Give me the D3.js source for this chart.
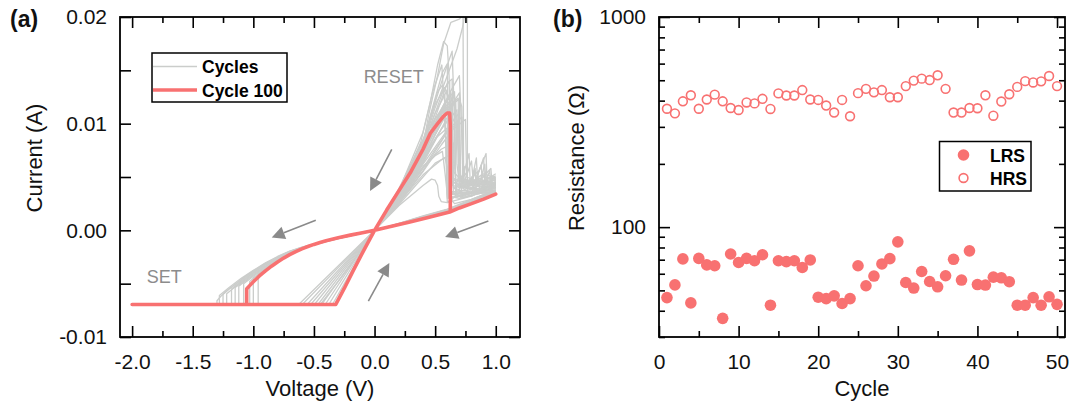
<!DOCTYPE html>
<html><head><meta charset="utf-8">
<script src="https://cdn.jsdelivr.net/npm/d3@7"></script>
<style>body{margin:0;background:#fff}svg{display:block;font-family:"Liberation Sans",Arial,sans-serif}</style>
</head><body><svg id="c" width="1073" height="405"></svg>
<script>
// ---------------- Panel (a): I–V sweeps (voltage V, current mA) ----------------
const voltTicks = [-2.0, -1.5, -1.0, -0.5, 0.0, 0.5, 1.0];
const voltMinorTicks = [-1.75, -1.25, -0.75, -0.25, 0.25, 0.75];
const currentTicks = [-10, 0, 10, 20];          // mA  -> labelled in A
const currentMinorTicks = [-5, 5, 15];

// Cycle 100 (highlighted)
const cycle100 = [[0,0],[0.1,1.9],[0.2,3.7],[0.3,5.5],[0.4,7.6],[0.46,9.1],[0.52,10.0],[0.57,10.7],[0.6,11.0],[0.62,11.0],[0.625,9.8],[0.625,1.75],
  [0.7,2.1],[0.8,2.5],[0.9,2.93],[1.0,3.4],[0.9,2.93],[0.8,2.5],[0.7,2.1],[0.62,1.72],[0.45,1.22],[0.3,0.8],[0.15,0.4],[0,0],
  [-0.1,-0.22],[-0.2,-0.45],[-0.3,-0.7],[-0.4,-0.98],[-0.45,-1.14],[-0.5,-1.32],[-0.55,-1.52],[-0.6,-1.74],[-0.65,-2.0],[-0.7,-2.28],
  [-0.75,-2.6],[-0.8,-2.96],[-0.85,-3.36],[-0.9,-3.8],[-0.95,-4.28],[-1.0,-4.82],[-1.04,-5.3],[-1.055,-5.5],[-1.055,-6.95],[-2.0,-6.95],[-0.32,-6.95],
  [-0.25,-5.45],[-0.175,-3.75],[-0.09,-1.9],[0,0]];

// Other cycles: positive LRS branch, RESET and post-reset sweep to 1 V
const cyclesLrsPos = [
  [[0,0],[0.1,1.6],[0.2,3.5],[0.3,5.3],[0.4,8.0],[0.45,11],[0.52,14.5],[0.57,17.5],[0.63,19.5],[0.7,19.8],[0.73,20.2],[0.735,4.6],[0.8,4.3],[0.83,5.6],[0.84,4.2],[0.9,4.1],[1.0,4.2]],
  [[0,0],[0.2,3.3],[0.4,8],[0.5,11.5],[0.6,14.5],[0.68,17],[0.73,19.2],[0.755,21],[0.766,22],[0.766,4.1],[0.85,3.9],[1.0,4.3]],
  [[0,0],[0.2,3.6],[0.38,8.2],[0.46,12],[0.52,15.5],[0.57,17.7],[0.6,17.3],[0.615,14.5],[0.63,5],[0.7,4.6],[0.76,5.4],[0.77,4.4],[0.85,4.3],[1.0,4.5]],
  [[0,0],[0.2,3.4],[0.4,8],[0.5,12],[0.57,14.5],[0.64,16.8],[0.655,12],[0.67,3.8],[0.8,3.6],[1.0,4.0]],
  [[0,0],[0.2,3.7],[0.4,9.2],[0.48,13],[0.555,15.5],[0.57,12.5],[0.6,13.2],[0.61,3.5],[0.75,3.4],[1.0,3.8]],
  [[0,0],[0.2,3.6],[0.4,8.5],[0.5,11.8],[0.58,13.4],[0.6,12.6],[0.61,3.1],[0.75,3.2],[0.83,5.8],[0.84,3.4],[1.0,3.7]],
  [[0,0],[0.2,3.2],[0.4,7.2],[0.55,10.8],[0.66,12.6],[0.68,9],[0.7,6.5],[0.72,3.3],[0.85,3.7],[1.0,4.6]],
  [[0,0],[0.2,3.0],[0.4,6.8],[0.55,10],[0.65,12],[0.7,12.9],[0.71,5.2],[0.74,4.5],[0.8,6.5],[0.82,3.8],[1.0,4.2]],
  [[0,0],[0.2,3.5],[0.4,7.8],[0.52,10.6],[0.62,12.1],[0.63,2.8],[0.68,3.4],[0.72,3.0],[0.8,3.3],[0.86,4.6],[0.87,3.5],[1.0,3.5]],
  [[0,0],[0.2,3.9],[0.4,8.5],[0.5,10.5],[0.57,11.5],[0.59,8],[0.6,2.6],[0.8,3.2],[1.0,4.5]],
  [[0,0],[0.2,2.9],[0.4,6.5],[0.55,9.5],[0.68,11.3],[0.69,7],[0.7,4.8],[0.78,4.4],[0.9,5.0],[1.0,4.8]],
  [[0,0],[0.2,3.3],[0.4,7],[0.52,8.8],[0.6,9.6],[0.62,6.5],[0.63,3.6],[0.8,3.8],[0.92,7.2],[0.93,4.0],[1.0,4.3]],
  [[0,0],[0.2,2.8],[0.4,6.2],[0.6,9.4],[0.72,10.6],[0.73,3.9],[0.85,5.5],[0.87,3.6],[1.0,4.1]],
  [[0,0],[0.2,2.9],[0.4,6],[0.55,7.6],[0.65,8.2],[0.66,6],[0.68,3.2],[0.9,3.7],[1.0,4.0]],
  [[0,0],[0.2,2.3],[0.4,4.2],[0.47,4.8],[0.5,4.7],[0.52,4.2],[0.53,3.2],[0.55,2.7],[0.6,2.6],[0.63,2.9],[0.66,2.5],[0.8,2.9],[1.0,3.8]],
  [[0,0],[0.2,2.6],[0.4,5.2],[0.55,6.6],[0.62,7.1],[0.63,3.6],[0.8,3.5],[0.9,6.8],[0.91,3.9],[1.0,4.2]],
  [[0,0],[0.2,3.1],[0.4,6.9],[0.55,10.8],[0.63,13.1],[0.7,14.5],[0.72,9],[0.73,4.4],[0.9,4.6],[1.0,4.9]],
  [[0,0],[0.2,3.6],[0.4,8],[0.5,11],[0.58,12.7],[0.6,3],[0.75,3.3],[1.0,3.9]],
  [[0,0],[0.2,3.4],[0.4,7.6],[0.5,10.4],[0.6,12.3],[0.66,13.0],[0.67,4.2],[0.76,4.0],[0.88,5.2],[1.0,4.6]],
  [[0,0],[0.2,3.2],[0.4,7.4],[0.52,11.2],[0.6,13.8],[0.64,14.2],[0.65,5.5],[0.7,4.9],[0.86,4.5],[1.0,5.1]],
  [[0,0],[0.2,2.7],[0.4,5.8],[0.5,7.6],[0.6,9.2],[0.68,10],[0.7,8.5],[0.71,4.6],[0.8,4.2],[0.86,4.9],[0.95,4.3],[1.0,4.4]],
  [[0,0],[0.2,2.5],[0.4,5.5],[0.55,8.0],[0.65,9.5],[0.75,10.4],[0.76,5.0],[0.82,4.7],[0.9,5.3],[1.0,4.9]],
  [[0,0],[0.2,3.0],[0.4,6.6],[0.5,9.0],[0.6,11.2],[0.64,11.6],[0.65,4.0],[0.7,3.8],[0.78,7.2],[0.79,4.2],[1.0,4.4]],
  [[0,0],[0.2,3.1],[0.4,7.0],[0.5,9.6],[0.56,11.5],[0.62,12.8],[0.64,12.2],[0.65,3.4],[0.8,3.5],[1.0,4.0]],
  [[0,0],[0.2,2.4],[0.4,5.0],[0.5,6.3],[0.58,6.8],[0.6,6.0],[0.62,4.3],[0.7,4.0],[0.85,4.4],[1.0,4.7]],
  [[0,0],[0.2,3.3],[0.4,7.3],[0.5,9.8],[0.58,11.9],[0.62,12.4],[0.63,9.5],[0.64,4.6],[0.72,4.1],[0.74,6.0],[0.75,4.3],[1.0,4.5]],
  [[0,0],[0.2,3.4],[0.4,7.9],[0.46,10.6],[0.52,13.0],[0.56,13.6],[0.58,12],[0.6,3.2],[0.7,3.0],[0.88,3.5],[1.0,4.0]],
  [[0,0],[0.2,2.6],[0.4,5.6],[0.56,8.5],[0.66,10.5],[0.7,11.0],[0.7,4.0],[0.8,3.9],[0.96,5.8],[0.97,4.2],[1.0,4.3]],
  [[0,0],[0.2,2.8],[0.4,6.3],[0.5,8.4],[0.6,10.6],[0.67,12.2],[0.68,6.2],[0.7,4.3],[0.8,4.8],[0.9,4.2],[1.0,5.0]],
  [[0,0],[0.2,3.5],[0.4,8.3],[0.5,12.4],[0.56,14.8],[0.6,15.6],[0.61,6.4],[0.64,4.5],[0.8,4.0],[1.0,4.4]],
  [[0,0],[0.2,2.7],[0.4,5.9],[0.5,7.0],[0.56,7.4],[0.58,5.5],[0.6,3.4],[0.7,3.3],[0.9,3.9],[1.0,4.1]],
  [[0,0],[0.2,3.2],[0.4,7.1],[0.5,9.3],[0.6,11.5],[0.7,12.3],[0.72,11.6],[0.73,4.8],[0.82,4.4],[0.88,6.1],[0.89,4.5],[1.0,4.7]],
  [[0,0],[0.2,3.3],[0.4,7.4],[0.5,10.0],[0.58,12.0],[0.63,12.9],[0.64,5.0],[0.68,4.4],[0.7,5.6],[0.72,4.2],[0.8,4.6],[0.84,6.8],[0.85,4.5],[0.93,4.8],[1.0,5.3]],
  [[0,0],[0.2,3.0],[0.4,6.6],[0.52,9.5],[0.62,11.7],[0.69,12.4],[0.7,3.6],[0.76,3.9],[0.8,5.0],[0.82,3.8],[0.9,4.0],[0.95,5.6],[0.96,4.1],[1.0,4.0]],
  [[0,0],[0.2,3.4],[0.4,7.8],[0.5,11.0],[0.57,13.2],[0.62,14.0],[0.625,4.8],[0.66,3.9],[0.72,4.5],[0.79,3.8],[0.86,4.2],[0.91,6.2],[0.92,4.3],[1.0,4.8]],
  [[0,0],[0.2,2.9],[0.4,6.4],[0.5,8.6],[0.6,10.3],[0.66,11.0],[0.67,3.1],[0.74,3.4],[0.8,3.2],[0.88,3.6],[1.0,3.6]]
];
// Other cycles: HRS sweep from 1 V back through 0 V to SET
const cyclesHrs = [
  [[1.0,3.7],[0.8,2.8],[0.6,1.95],[0.4,1.3],[0.2,0.62],[0,0],[-0.1,-0.24],[-0.2,-0.49],[-0.3,-0.74],[-0.4,-1.0],[-0.5,-1.3],[-0.6,-1.62],[-0.7,-2.0],[-0.8,-2.5],[-0.9,-3.1],[-1.0,-3.8],[-1.1,-4.6],[-1.2,-5.5],[-1.27,-6.2],[-1.3,-6.6],[-1.3,-7.0]],
  [[1.0,3.5],[0.8,2.65],[0.6,1.85],[0.4,1.25],[0.2,0.58],[0,0],[-0.1,-0.25],[-0.2,-0.5],[-0.3,-0.75],[-0.4,-1.02],[-0.5,-1.32],[-0.6,-1.65],[-0.7,-2.05],[-0.8,-2.6],[-0.9,-3.25],[-1.0,-4.0],[-1.1,-4.85],[-1.2,-5.75],[-1.22,-5.95],[-1.22,-7.0]],
  [[1.0,3.6],[0.8,2.75],[0.6,1.9],[0.4,1.28],[0.2,0.6],[0,0],[-0.1,-0.25],[-0.2,-0.5],[-0.3,-0.76],[-0.4,-1.03],[-0.5,-1.34],[-0.6,-1.68],[-0.7,-2.1],[-0.8,-2.7],[-0.9,-3.4],[-1.0,-4.2],[-1.1,-5.05],[-1.12,-5.25],[-1.12,-7.0]],
  [[1.0,3.45],[0.8,2.6],[0.6,1.8],[0.4,1.2],[0.2,0.55],[0,0],[-0.1,-0.25],[-0.2,-0.51],[-0.3,-0.77],[-0.4,-1.04],[-0.5,-1.35],[-0.6,-1.72],[-0.7,-2.18],[-0.8,-2.8],[-0.9,-3.55],[-0.96,-4.1],[-0.96,-7.0]],
  [[1.0,3.8],[0.8,2.9],[0.6,2.0],[0.4,1.35],[0.2,0.65],[0,0],[-0.1,-0.24],[-0.2,-0.48],[-0.3,-0.73],[-0.4,-0.99],[-0.5,-1.28],[-0.6,-1.58],[-0.7,-1.95],[-0.8,-2.45],[-0.9,-3.05],[-1.0,-3.75],[-1.1,-4.5],[-1.2,-5.35],[-1.28,-6.1],[-1.28,-7.0]],
  [[1.0,3.55],[0.8,2.7],[0.6,1.88],[0.4,1.27],[0.2,0.6],[0,0],[-0.1,-0.25],[-0.2,-0.5],[-0.3,-0.76],[-0.4,-1.03],[-0.5,-1.34],[-0.6,-1.7],[-0.7,-2.14],[-0.8,-2.75],[-0.9,-3.5],[-1.0,-4.3],[-1.08,-5.0],[-1.08,-7.0]],
  [[1.0,3.65],[0.8,2.8],[0.6,1.95],[0.4,1.3],[0.2,0.62],[0,0],[-0.1,-0.24],[-0.2,-0.49],[-0.3,-0.74],[-0.4,-1.01],[-0.5,-1.3],[-0.6,-1.64],[-0.7,-2.02],[-0.8,-2.55],[-0.9,-3.2],[-1.0,-3.95],[-1.1,-4.75],[-1.18,-5.5],[-1.18,-7.0]],
  [[1.0,3.5],[0.8,2.65],[0.6,1.82],[0.4,1.22],[0.2,0.57],[0,0],[-0.1,-0.25],[-0.2,-0.51],[-0.3,-0.77],[-0.4,-1.05],[-0.5,-1.36],[-0.6,-1.74],[-0.7,-2.2],[-0.8,-2.85],[-0.9,-3.65],[-1.0,-4.5],[-1.03,-4.8],[-1.03,-7.0]],
  [[1.0,3.4],[0.8,2.55],[0.6,1.78],[0.4,1.2],[0.2,0.55],[0,0],[-0.1,-0.24],[-0.2,-0.49],[-0.3,-0.74],[-0.4,-1.01],[-0.5,-1.3],[-0.6,-1.6],[-0.7,-1.98],[-0.8,-2.5],[-0.9,-3.15],[-1.0,-3.85],[-1.1,-4.65],[-1.2,-5.5],[-1.25,-6.0],[-1.25,-7.0]],
  [[1.0,3.6],[0.8,2.72],[0.6,1.9],[0.4,1.27],[0.2,0.6],[0,0],[-0.1,-0.25],[-0.2,-0.5],[-0.3,-0.75],[-0.4,-1.02],[-0.5,-1.33],[-0.6,-1.67],[-0.7,-2.08],[-0.8,-2.65],[-0.9,-3.35],[-1.0,-4.1],[-1.1,-4.95],[-1.15,-5.35],[-1.15,-7.0]],
  [[1.0,3.5],[0.8,2.66],[0.6,1.86],[0.4,1.24],[0.2,0.58],[0,0],[-0.1,-0.25],[-0.2,-0.51],[-0.3,-0.77],[-0.4,-1.05],[-0.5,-1.36],[-0.6,-1.73],[-0.7,-2.2],[-0.8,-2.82],[-0.9,-3.6],[-1.0,-4.45],[-1.0,-7.0]]
];
// Other cycles: compliance (-7 mA) then negative LRS branch back to 0 V
const cyclesLrsNeg = [
  [[-2.0,-7.0],[-0.33,-7.0],[0,0]], [[-2.0,-7.0],[-0.35,-7.0],[0,0]], [[-2.0,-7.0],[-0.38,-7.0],[0,0]],
  [[-2.0,-7.0],[-0.41,-7.0],[0,0]], [[-2.0,-7.0],[-0.44,-7.0],[0,0]], [[-2.0,-7.0],[-0.47,-7.0],[0,0]],
  [[-2.0,-7.0],[-0.5,-7.0],[0,0]], [[-2.0,-7.0],[-0.53,-7.0],[0,0]], [[-2.0,-7.0],[-0.56,-7.0],[0,0]],
  [[-2.0,-7.0],[-0.6,-7.0],[0,0]], [[-2.0,-7.0],[-0.63,-7.0],[0,0]], [[-2.0,-7.0],[-0.45,-7.0],[-0.2,-3.3],[0,0]]
];
const annotations = [{text:"RESET", v:-0.09, i:13.8}, {text:"SET", v:-1.88, i:-4.9}];
const arrows = [[0.142,7.59,-0.037,3.68],[-0.485,0.94,-0.848,-0.68],[0.939,0.87,0.582,-0.63],[-0.051,-6.63,0.122,-3.07]];

// ---------------- Panel (b): resistance vs cycle ----------------
const cycles = d3.range(1, 51);
const lrs = [46.2,53.1,70.6,43.6,71,66.1,65.5,36.8,74.5,67.9,71,69.2,73.9,42.5,69.2,68.5,69.2,64.3,69.8,46.4,
  45.7,47.1,43.3,45.7,65.5,52.6,58.5,66.8,70.8,85.1,54.5,51.3,61.5,55.1,52,58.7,70.3,56,77.1,53.3,
  53,57.8,57.4,55,42.5,42.5,46.2,42.5,46.6,42.9];
const hrs = [366,348,397,424,366,405,427,397,369,361,392,388,408,365,433,423,423,449,405,403,
  379,351,403,337,434,455,438,449,415,415,469,498,509,501,528,455,351,351,369,368,
  424,339,396,429,465,495,488,494,524,469];
const cycleTicks = [0,10,20,30,40,50];
const cycleMinorTicks = [5,15,25,35,45];
const resMajorTicks = [100,1000];
const resMinorTicks = [30,40,50,60,70,80,90,200,300,400,500,600,700,800,900];

const RED = "#f87171", GREY = "#cbcdcb", ARROW = "#8a8a8a";
const svg = d3.select("#c");

// ---------- helpers ----------
function frameAxes(g, x, y, L, R, T, B, xMaj, xMin, yMaj, yMin, xFmt, yFmt, yMinorLen) {
  const mk = (axis, scale, ticks, len, fmt, tr) => {
    const a = axis(scale).tickValues(ticks).tickSize(-len).tickPadding(axis===d3.axisBottom?17:13).tickFormat(fmt || (()=>""));
    const gg = g.append("g").attr("transform", tr).call(a);
    gg.select(".domain").remove();
    gg.selectAll("line").attr("stroke","#000").attr("stroke-width",1.6);
    gg.selectAll("text").attr("font-size",21).attr("fill","#111").attr("font-family","Liberation Sans, Arial, sans-serif");
    return gg;
  };
  mk(d3.axisBottom, x, xMaj, 11, xFmt, `translate(0,${B})`);
  mk(d3.axisBottom, x, xMin, 6, null, `translate(0,${B})`);
  mk(d3.axisTop, x, xMaj, 11, null, `translate(0,${T})`);
  mk(d3.axisTop, x, xMin, 6, null, `translate(0,${T})`);
  mk(d3.axisLeft, y, yMaj, 11, yFmt, `translate(${L},0)`);
  mk(d3.axisLeft, y, yMin, yMinorLen, null, `translate(${L},0)`);
  mk(d3.axisRight, y, yMaj, 11, null, `translate(${R},0)`);
  mk(d3.axisRight, y, yMin, yMinorLen, null, `translate(${R},0)`);
  g.append("rect").attr("x",L).attr("y",T).attr("width",R-L).attr("height",B-T)
    .attr("fill","none").attr("stroke","#000").attr("stroke-width",1.8);
}

// ================= Panel (a) =================
{
  const L=120, R=520, T=17, B=337;
  const x = d3.scaleLinear([-2.1, 1.2], [L, R]);
  const y = d3.scaleLinear([-10, 20], [B, T]);
  const g = svg.append("g");
  g.append("clipPath").attr("id","clipA").append("rect").attr("x",L).attr("y",T).attr("width",R-L).attr("height",B-T);
  const line = d3.line().x(d=>x(d[0])).y(d=>y(d[1]));
  const pg = g.append("g").attr("clip-path","url(#clipA)");
  [...cyclesLrsNeg, ...cyclesHrs, ...cyclesLrsPos].forEach(c => {
    pg.append("path").attr("d", line(c)).attr("fill","none").attr("stroke",GREY).attr("stroke-width",1.3).attr("stroke-linejoin","round");
  });
  pg.append("path").attr("d", line(cycle100)).attr("fill","none").attr("stroke",RED).attr("stroke-width",3.6).attr("stroke-linejoin","round");

  // arrows
  arrows.forEach(a => {
    const x1=x(a[0]), y1=y(a[1]), x2=x(a[2]), y2=y(a[3]);
    const ang = Math.atan2(y2-y1, x2-x1), hl=13, hw=6.5;
    const bx = x2 - hl*Math.cos(ang), by = y2 - hl*Math.sin(ang);
    g.append("line").attr("x1",x1).attr("y1",y1).attr("x2",bx).attr("y2",by).attr("stroke",ARROW).attr("stroke-width",1.6);
    const p = [[x2,y2],[bx - hw*Math.sin(ang), by + hw*Math.cos(ang)],[bx + hw*Math.sin(ang), by - hw*Math.cos(ang)]];
    g.append("path").attr("d","M"+p.map(q=>q.join(",")).join("L")+"Z").attr("fill",ARROW);
  });
  annotations.forEach(a => g.append("text").attr("x",x(a.v)).attr("y",y(a.i)).attr("font-size",18).attr("fill","#8c8c8c").text(a.text));

  frameAxes(g, x, y, L, R, T, B, voltTicks, voltMinorTicks, currentTicks, currentMinorTicks,
    d => d.toFixed(1), d => (d/1000).toFixed(2), 11);

  // legend
  const lg = g.append("g");
  lg.append("rect").attr("x",152).attr("y",53).attr("width",135).attr("height",49).attr("fill","#fff").attr("stroke","#000").attr("stroke-width",1.5);
  lg.append("line").attr("x1",153).attr("x2",197).attr("y1",66.5).attr("y2",66.5).attr("stroke",GREY).attr("stroke-width",1.6);
  lg.append("line").attr("x1",153).attr("x2",197).attr("y1",90).attr("y2",90).attr("stroke",RED).attr("stroke-width",3.6);
  lg.append("text").attr("x",202).attr("y",73).attr("font-size",17.5).attr("font-weight","bold").text("Cycles");
  lg.append("text").attr("x",202).attr("y",96.5).attr("font-size",17.5).attr("font-weight","bold").text("Cycle 100");

  svg.append("text").attr("x",320).attr("y",396).attr("text-anchor","middle").attr("font-size",22).attr("fill","#111").text("Voltage (V)");
  svg.append("text").attr("transform","translate(42,158) rotate(-90)").attr("text-anchor","middle").attr("font-size",22).attr("fill","#111").text("Current (A)");
  svg.append("text").attr("x",10).attr("y",27).attr("font-size",23).attr("font-weight","bold").attr("fill","#111").text("(a)");
}

// ================= Panel (b) =================
{
  const L=659, R=1065, T=17, B=337;
  const x = d3.scaleLinear([0, 51], [L, R]);
  const y = d3.scaleLog([30, 1000], [B, T]);
  const g = svg.append("g");
  frameAxes(g, x, y, L, R, T, B, cycleTicks, cycleMinorTicks, resMajorTicks, resMinorTicks,
    d => String(d), d => String(d), 6);
  g.append("g").selectAll("circle").data(cycles).join("circle")
    .attr("cx", (c)=>x(c)).attr("cy", (c,i)=>y(lrs[i])).attr("r",5.8).attr("fill",RED);
  g.append("g").selectAll("circle").data(cycles).join("circle")
    .attr("cx", (c)=>x(c)).attr("cy", (c,i)=>y(hrs[i])).attr("r",4.4).attr("fill","none").attr("stroke",RED).attr("stroke-width",1.6);

  const lg = g.append("g");
  lg.append("rect").attr("x",939.5).attr("y",141.5).attr("width",91.5).attr("height",49.5).attr("fill","#fff").attr("stroke","#000").attr("stroke-width",1.5);
  lg.append("circle").attr("cx",963.5).attr("cy",155).attr("r",5.8).attr("fill",RED);
  lg.append("circle").attr("cx",963.5).attr("cy",178).attr("r",4.4).attr("fill","none").attr("stroke",RED).attr("stroke-width",1.6);
  lg.append("text").attr("x",990).attr("y",161.5).attr("font-size",17.5).attr("font-weight","bold").text("LRS");
  lg.append("text").attr("x",990).attr("y",184.5).attr("font-size",17.5).attr("font-weight","bold").text("HRS");

  svg.append("text").attr("x",862).attr("y",396).attr("text-anchor","middle").attr("font-size",22).attr("fill","#111").text("Cycle");
  svg.append("text").attr("transform","translate(584,158) rotate(-90)").attr("text-anchor","middle").attr("font-size",22).attr("fill","#111").text("Resistance (Ω)");
  svg.append("text").attr("x",553).attr("y",27).attr("font-size",23).attr("font-weight","bold").attr("fill","#111").text("(b)");
}
</script></body></html>
